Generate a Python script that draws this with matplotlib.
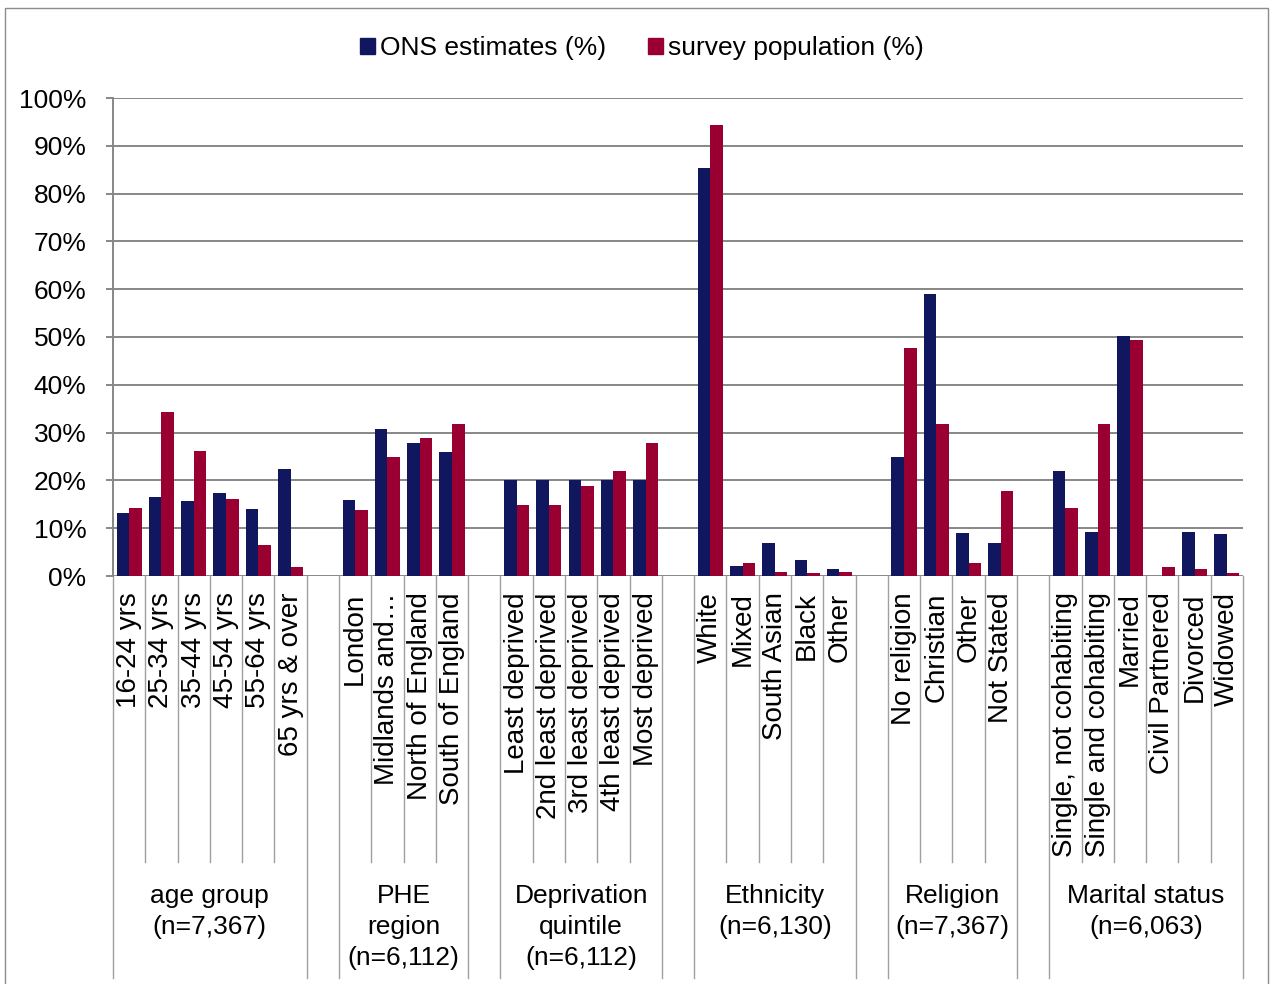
import matplotlib
matplotlib.use("Agg")
import matplotlib.pyplot as plt
from matplotlib.patches import Patch, Rectangle

plt.rcParams['font.family'] = ['Liberation Sans', 'DejaVu Sans']

# groups and their categories; blank groups act as spacers between sections
groups = ["age group\n(n=7,367)", "", "PHE\nregion\n(n=6,112)", "",
          "Deprivation\nquintile\n(n=6,112)", "", "Ethnicity\n(n=6,130)", "",
          "Religion\n(n=7,367)", "", "Marital status\n(n=6,063)"]
categories = [
    ["16-24 yrs", "25-34 yrs", "35-44 yrs", "45-54 yrs", "55-64 yrs", "65 yrs & over"],
    [""],
    ["London", "Midlands and…", "North of England", "South of England"],
    [""],
    ["Least deprived", "2nd least deprived", "3rd least deprived", "4th least deprived", "Most deprived"],
    [""],
    ["White", "Mixed", "South Asian", "Black", "Other"],
    [""],
    ["No religion", "Christian", "Other", "Not Stated"],
    [""],
    ["Single, not cohabiting", "Single and cohabiting", "Married", "Civil Partnered", "Divorced", "Widowed"],
]
ons = [
    [13.1, 16.6, 15.7, 17.3, 14.1, 22.3],
    [None],
    [15.9, 30.8, 27.9, 25.9],
    [None],
    [20.0, 20.0, 20.0, 20.0, 20.0],
    [None],
    [85.4, 2.1, 6.9, 3.3, 1.5],
    [None],
    [24.9, 59.0, 8.9, 6.9],
    [None],
    [22.0, 9.2, 50.2, 0.1, 9.2, 8.8],
]
survey = [
    [14.2, 34.3, 26.2, 16.2, 6.5, 1.8],
    [None],
    [13.8, 24.8, 28.9, 31.9],
    [None],
    [14.8, 14.8, 18.8, 22.0, 27.9],
    [None],
    [94.3, 2.7, 0.8, 0.6, 0.8],
    [None],
    [47.6, 31.7, 2.7, 17.8],
    [None],
    [14.2, 31.9, 49.4, 1.8, 1.5, 0.6],
]

navy = "#11175F"
crimson = "#990031"
grid_col = "#878787"
div_col = "#A0A0A0"
fs = 19

fig = plt.figure(figsize=(12.71, 9.84), dpi=100)
ax = fig.add_axes([113 / 1271, 1 - 576 / 984, 1130 / 1271, 478 / 984])

# outer chart frame
fig.patches.append(Rectangle((5 / 1271, -0.02), 1263 / 1271, 1 - 8 / 984 + 0.02,
                             transform=fig.transFigure, fill=False,
                             edgecolor="#8C8C8C", lw=1.0))

bw = 0.39
pos = 0
group_spans = []
for g, cats in enumerate(categories):
    start = pos
    for k, name in enumerate(cats):
        c = pos + 0.5
        if ons[g][k] is not None:
            ax.bar(c - bw / 2, ons[g][k], width=bw, color=navy, zorder=3)
            ax.bar(c + bw / 2, survey[g][k], width=bw, color=crimson, zorder=3)
        if name:
            ax.text(c, -0.034, name, transform=ax.get_xaxis_transform(),
                    rotation=90, ha="center", va="top", fontsize=20)
        pos += 1
    group_spans.append((start, pos))

n_slots = pos
ax.set_xlim(0, n_slots)
ax.set_ylim(0, 100)

xt = ax.get_xaxis_transform()
# inner dividers between categories and longer dividers between groups
for g, (s, e) in enumerate(group_spans):
    for x in range(s + 1, e):
        ax.plot([x, x], [0, -0.598], transform=xt, clip_on=False,
                color=div_col, lw=1.0)
    ax.plot([s, s], [0, -0.84], transform=xt, clip_on=False, color=div_col, lw=1.0)
    if groups[g]:
        ax.text((s + e) / 2, -0.644, groups[g], transform=xt, ha="center",
                va="top", fontsize=fs, linespacing=1.38)
ax.plot([n_slots, n_slots], [0, -0.84], transform=xt, clip_on=False,
        color=div_col, lw=1.0)

ax.set_yticks(range(0, 101, 10))
ax.set_yticklabels([f"{v}%" for v in range(0, 101, 10)], fontsize=fs)
ax.tick_params(axis="y", length=5, width=1.4, color=grid_col, pad=14)
ax.set_xticks([])
ax.yaxis.grid(True, color=grid_col, lw=1.4, zorder=0)
ax.set_axisbelow(True)
for side in ["top", "right", "bottom"]:
    ax.spines[side].set_visible(False)
ax.spines["left"].set_color(grid_col)
ax.spines["left"].set_linewidth(1.4)

handles = [Patch(color=navy, label="ONS estimates (%)"),
           Patch(color=crimson, label="survey population (%)")]
fig.legend(handles=handles, loc="center", bbox_to_anchor=(0.505, 1 - 48 / 984),
           ncol=2, frameon=False, fontsize=fs, handlelength=0.55,
           handleheight=0.55, handletextpad=0.2, columnspacing=1.6)

fig.savefig("out.png", dpi=100)
